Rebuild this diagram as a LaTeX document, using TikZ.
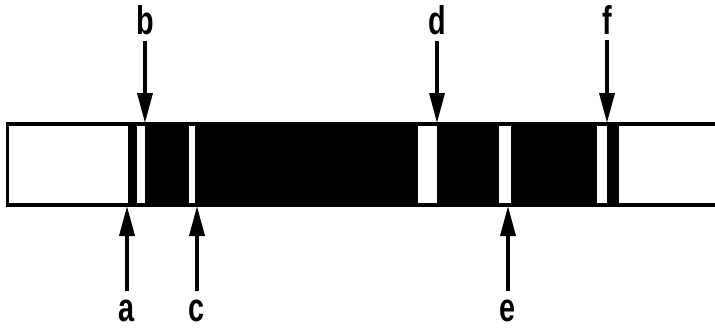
\documentclass[tikz,border=0pt]{standalone}
\usepackage{fontspec}
\setmainfont{Liberation Sans}
\usetikzlibrary{arrows.meta}
\tikzset{
  band/.style={fill=black,draw=none},
  gap/.style={fill=white,draw=none},
  barframe/.style={draw=black,line width=3.5pt},
  pointer/.style={line width=3.5pt,-{Triangle[length=30pt,width=15pt]}},
  lbl/.style={inner sep=0pt,anchor=base,font=\bfseries\fontsize{40}{40}\selectfont,xscale=0.72}
}
\begin{document}
\begin{tikzpicture}[x=1pt,y=-1pt]
\useasboundingbox (0,0) rectangle (715,329);
% bar body
\fill[white] (7.5,124) rectangle (715,205);
\fill[band] (128,124) rectangle (137,205);
\fill[band] (145,124) rectangle (189,205);
\fill[band] (195,124) rectangle (418,205);
\fill[band] (437,124) rectangle (499,205);
\fill[band] (511,124) rectangle (597,205);
\fill[band] (607,124) rectangle (619,205);
\draw[barframe] (716,124) -- (7.5,124) -- (7.5,205) -- (716,205);
% labels
\node[lbl] (b) at (145,35) {b};
\node[lbl] (d) at (437,35) {d};
\node[lbl] (f) at (607,35) {f};
\node[lbl] (a) at (127,321) {a};
\node[lbl] (c) at (197,321) {c};
\node[lbl] (e) at (508,321) {e};
% arrow targets
\coordinate (tb) at (145,123);
\coordinate (td) at (437,123);
\coordinate (tf) at (607,123);
\coordinate (ta) at (127,206);
\coordinate (tc) at (197,206);
\coordinate (te) at (508,206);
\draw[pointer] ([yshift=-5pt]b.south) -- (tb);
\draw[pointer] ([yshift=-5pt]d.south) -- (td);
\draw[pointer] ([yshift=-5pt]f.south) -- (tf);
\draw[pointer] ([yshift=8pt]a.north) -- (ta);
\draw[pointer] ([yshift=8pt]c.north) -- (tc);
\draw[pointer] ([yshift=8pt]e.north) -- (te);
\end{tikzpicture}
\end{document}
